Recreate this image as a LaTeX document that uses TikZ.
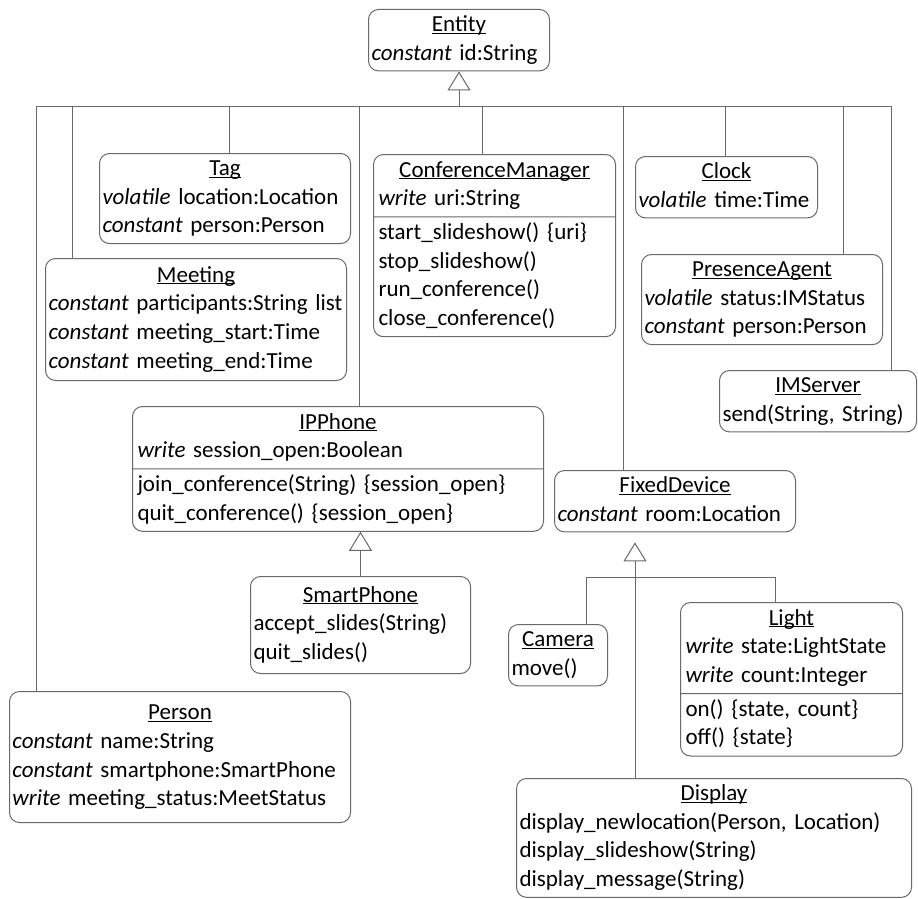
\documentclass[tikz,border=0pt]{standalone}
\usepackage{fontspec}
\setmainfont{Carlito}[WordSpace=0.8]
\usetikzlibrary{arrows.meta,shapes.multipart}
\definecolor{umlgray}{RGB}{105,105,105}
\newcommand{\cls}[1]{\strut\hfill\underline{\smash{#1}}\hfill\null}
\newcommand{\kw}[1]{\textit{#1}}

\begin{document}
\begin{tikzpicture}[x=1pt, y=-1pt,
    umlbox/.style={draw=umlgray, line width=1pt, rounded corners=10pt, anchor=north west,
        align=left, inner xsep=3pt, inner ysep=2pt, font=\fontsize{23}{28.7}\selectfont},
    splitbox/.style={umlbox, inner xsep=5pt, rectangle split, rectangle split parts=2},
    link/.style={draw=umlgray, line width=1pt},
    gen/.style={link, -{Triangle[open, length=19pt, width=23pt]}}]
    \useasboundingbox (0,0) rectangle (918,899);

    % Root class
    \node[umlbox, text width=175pt] (entity) at (368,9) {
        \cls{Entity}\\ \kw{constant} id:String\strut};

    % First level
    \node[umlbox, text width=245pt] (tag) at (99,153) {
        \cls{Tag}\\
        \kw{volatile} location:Location\\
        \kw{constant} person:Person\strut};
    \node[umlbox, text width=295pt, minimum height=122pt] (meeting) at (45,258) {
        \cls{Meeting}\\
        \kw{constant} participants:String list\\
        \kw{constant} meeting\_start:Time\\
        \kw{constant} meeting\_end:Time\strut};
    \node[splitbox, text width=232pt] (conf) at (373,154) {
        \cls{ConferenceManager}\\
        \kw{write} uri:String\strut
        \nodepart{two}\strut start\_slideshow() \{uri\}\\
        stop\_slideshow()\\
        run\_conference()\\
        close\_conference()\strut};
    \node[umlbox, text width=176pt] (clock) at (635,156) {
        \cls{Clock}\\ \kw{volatile} time:Time\strut};
    \node[umlbox, text width=235pt] (presence) at (641,254) {
        \cls{PresenceAgent}\\
        \kw{volatile} status:IMStatus\\
        \kw{constant} person:Person\strut};
    \node[umlbox, text width=191pt] (imserver) at (719,370) {
        \cls{IMServer}\\ send(String, String)\strut};
    \node[splitbox, text width=401pt] (ipphone) at (132,406) {
        \cls{IPPhone}\\
        \kw{write} session\_open:Boolean\strut
        \nodepart{two}\strut join\_conference(String) \{session\_open\}\\
        quit\_conference() \{session\_open\}\strut};
    \node[umlbox, text width=335pt, minimum height=131pt] (person) at (9,691) {
        \cls{Person}\\
        \kw{constant} name:String\\
        \kw{constant} smartphone:SmartPhone\\
        \kw{write} meeting\_status:MeetStatus\strut};
    \node[umlbox, text width=235pt] (fixed) at (554,470) {
        \cls{FixedDevice}\\ \kw{constant} room:Location\strut};

    % Subclasses
    \node[umlbox, text width=214pt, minimum height=97pt] (smart) at (250,576) {
        \cls{SmartPhone}\\
        accept\_slides(String)\\
        quit\_slides()\strut};
    \node[umlbox, text width=93pt] (camera) at (508,624) {
        \cls{Camera}\\ move()\strut};
    \node[splitbox, text width=212pt] (light) at (680,602) {
        \cls{Light}\\
        \kw{write} state:LightState\\
        \kw{write} count:Integer\strut
        \nodepart{two}\strut on() \{state, count\}\\
        off() \{state\}\strut};
    \node[umlbox, text width=389pt] (display) at (516,778) {
        \cls{Display}\\
        display\_newlocation(Person, Location)\\
        display\_slideshow(String)\\
        display\_message(String)\strut};

    % Inheritance from Entity
    \foreach \x/\n in {36/person, 72/meeting, 229/tag, 359/ipphone, 482/conf,
                       623/fixed, 725/clock, 843/presence, 891/imserver}
        \coordinate (bus-\n) at (\x,106);
    \draw[link] (bus-person) -- (bus-imserver);
    \draw[gen] (entity.south |- bus-person) -- (entity.south);
    \foreach \n in {person, meeting, tag, ipphone, conf, fixed, clock, presence, imserver}
        \draw[link] (bus-\n) -- (bus-\n |- \n.north);

    % Inheritance from IPPhone
    \draw[gen] (smart.north) -- (smart.north |- ipphone.south);

    % Inheritance from FixedDevice
    \coordinate (fork) at (635,577);
    \coordinate (camtap) at (586,577);
    \coordinate (lighttap) at (775,577);
    \draw[gen, shorten >=10pt] (fork |- display.north) -- (fork |- fixed.south);
    \draw[link] (camera.north -| camtap) -- (camtap) -- (lighttap) -- (light.north -| lighttap);
\end{tikzpicture}
\end{document}
